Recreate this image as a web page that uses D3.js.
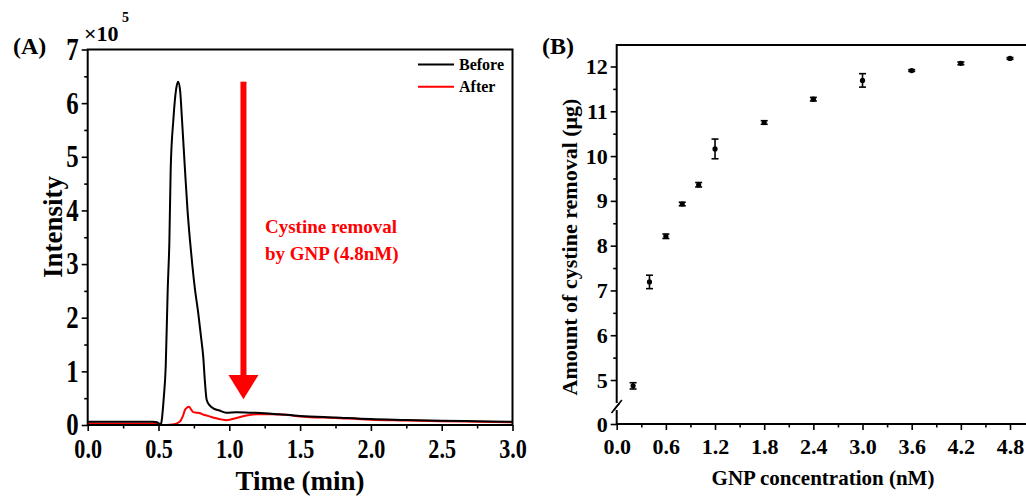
<!DOCTYPE html>
<html>
<head>
<meta charset="utf-8">
<script src="https://cdn.jsdelivr.net/npm/d3@7"></script>
<style>
  body { margin: 0; background: #fff; }
  svg { display: block; }
  text { font-family: "Liberation Serif", "Times New Roman", serif; font-weight: bold; }
</style>
</head>
<body>
<div id="chart"></div>
<script>
// ---- panel A data: chromatogram (intensity in units of 1e5) ----
var beforeTime = [0, 0.1, 0.2, 0.3, 0.4, 0.46, 0.49, 0.505, 0.515, 0.523, 0.537, 0.551, 0.565, 0.577, 0.586, 0.605, 0.624, 0.638, 0.652, 0.666, 0.687, 0.705, 0.722, 0.74, 0.758, 0.78, 0.80, 0.816, 0.828, 0.84, 0.86, 0.887, 0.93, 0.98, 1.05, 1.15, 1.25, 1.35, 1.5, 1.75, 2.0, 2.25, 2.5, 2.75, 3.0];
var beforeValue = [0.06, 0.06, 0.06, 0.06, 0.06, 0.06, 0.05, 0.02, 0.0, 0.09, 0.5, 1.09, 2.52, 3.45, 4.76, 5.69, 6.25, 6.40, 6.25, 5.69, 4.76, 4.0, 3.45, 2.95, 2.52, 2.1, 1.65, 1.27, 0.8, 0.47, 0.37, 0.31, 0.27, 0.23, 0.24, 0.23, 0.22, 0.2, 0.17, 0.14, 0.11, 0.095, 0.08, 0.07, 0.06];
var afterTime = [0, 0.1, 0.2, 0.3, 0.4, 0.5, 0.52, 0.6, 0.65, 0.67, 0.687, 0.7, 0.715, 0.73, 0.746, 0.77, 0.793, 0.82, 0.85, 0.9, 0.95, 0.98, 1.02, 1.076, 1.13, 1.19, 1.3, 1.4, 1.5, 1.75, 2.0, 2.25, 2.5, 2.75, 3.0];
var afterValue = [0.03, 0.03, 0.03, 0.03, 0.03, 0.03, 0.0, 0.01, 0.06, 0.15, 0.28, 0.32, 0.34, 0.29, 0.24, 0.23, 0.22, 0.19, 0.17, 0.13, 0.1, 0.09, 0.11, 0.15, 0.18, 0.2, 0.2, 0.19, 0.16, 0.13, 0.1, 0.085, 0.07, 0.06, 0.05];
var seriesNames = ['Before', 'After'];
var seriesColors = ['#000000', '#ff0000'];
var xTicksA = [0, 0.5, 1.0, 1.5, 2.0, 2.5, 3.0];
var yTicksA = [0, 1, 2, 3, 4, 5, 6, 7];
var arrowAt = {t: 1.1, from: 6.4, to: 0.5};

// ---- panel B data: cystine removal vs GNP concentration ----
var gnpConc = [0.2, 0.4, 0.6, 0.8, 1.0, 1.2, 1.8, 2.4, 3.0, 3.6, 4.2, 4.8];
var removal = [4.87, 7.19, 8.21, 8.93, 9.36, 10.16, 10.75, 11.27, 11.69, 11.91, 12.07, 12.18];
var removalErr = [0.07, 0.15, 0.05, 0.04, 0.05, 0.22, 0.04, 0.04, 0.15, 0.02, 0.03, 0.02];
var xTicksB = [0, 0.6, 1.2, 1.8, 2.4, 3.0, 3.6, 4.2, 4.8];
var yTicksB = [0, 5, 6, 7, 8, 9, 10, 11, 12];

var W = 1026, H = 498;
var svg = d3.select('#chart').append('svg').attr('width', W).attr('height', H);

// the original's lettering is a little narrow, so squeeze tick text horizontally
function styleAxis(g, size, sx) {
  sx = sx || 1;
  g.selectAll('.tick line').attr('stroke', '#000').attr('stroke-width', 1.6);
  g.selectAll('.tick text').attr('fill', '#000').style('font-size', size + 'px')
    .attr('transform', `scale(${sx},1)`);
  g.select('.domain').remove();
}

// ================= Panel A =================
var xA = d3.scaleLinear().domain([0, 3]).range([87.7, 512.5]);
var yA = d3.scaleLinear().domain([0, 7]).range([425, 49.5]);

var gA = svg.append('g');

// minor ticks
gA.append('g').attr('transform', 'translate(0,425)')
  .call(d3.axisBottom(xA).tickValues(d3.range(0.25, 3, 0.5)).tickSize(3.5).tickFormat(''))
  .call(styleAxis, 10);
gA.append('g').attr('transform', 'translate(87.7,0)')
  .call(d3.axisLeft(yA).tickValues(d3.range(0.5, 7, 1)).tickSize(3.5).tickFormat(''))
  .call(styleAxis, 10);
// major ticks
gA.append('g').attr('transform', 'translate(0,425)')
  .call(d3.axisBottom(xA).tickValues(xTicksA).tickSize(6).tickPadding(8).tickFormat(d3.format('.1f')))
  .call(styleAxis, 27, 0.82);
gA.append('g').attr('transform', 'translate(87.7,0)')
  .call(d3.axisLeft(yA).tickValues(yTicksA).tickSize(6).tickPadding(9 / 0.8 - 6).tickFormat(d3.format('d')))
  .call(styleAxis, 31, 0.8);

// curves: After drawn first so Before sits on top
var lineA = d3.line().x(d => xA(d[0])).y(d => yA(d[1])).curve(d3.curveMonotoneX);
var afterPts = afterTime.map((t, i) => [t, afterValue[i]]);
var beforePts = beforeTime.map((t, i) => [t, beforeValue[i]]);
gA.append('path').datum(afterPts).attr('d', lineA)
  .attr('fill', 'none').attr('stroke', seriesColors[1]).attr('stroke-width', 2);
gA.append('path').datum(beforePts).attr('d', lineA)
  .attr('fill', 'none').attr('stroke', seriesColors[0]).attr('stroke-width', 2);

// frame
gA.append('rect').attr('x', 87.7).attr('y', 49.5)
  .attr('width', 512.5 - 87.7).attr('height', 425 - 49.5)
  .attr('fill', 'none').attr('stroke', '#000').attr('stroke-width', 2);

// red arrow
var ax = xA(arrowAt.t), headTop = 375;
gA.append('rect').attr('x', ax - 3).attr('y', yA(arrowAt.from))
  .attr('width', 6).attr('height', headTop - yA(arrowAt.from) + 1).attr('fill', '#ff0000');
gA.append('path')
  .attr('d', `M${ax - 15},${headTop} L${ax + 15},${headTop} L${ax},${yA(arrowAt.to) + 1} Z`)
  .attr('fill', '#ff0000');

// annotation
gA.append('text').attr('x', 265).attr('y', 233).attr('fill', '#ff0000')
  .style('font-size', '19px').text('Cystine removal');
gA.append('text').attr('x', 265).attr('y', 260).attr('fill', '#ff0000')
  .style('font-size', '19px').text('by GNP (4.8nM)');

// legend
seriesNames.forEach(function(name, i) {
  var ly = 64.5 + i * 22.3;
  gA.append('line').attr('x1', 418).attr('x2', 454).attr('y1', ly).attr('y2', ly)
    .attr('stroke', seriesColors[i]).attr('stroke-width', 2);
  gA.append('text').attr('x', 459).attr('y', ly + 5.5).attr('fill', '#000')
    .style('font-size', '16px').text(name);
});

// labels
gA.append('text').attr('x', 13).attr('y', 54).style('font-size', '24px').text('(A)');
gA.append('text').attr('x', 84).attr('y', 41).style('font-size', '22px').text('\u00d710');
gA.append('text').attr('x', 122).attr('y', 22).style('font-size', '14px').text('5');
gA.append('text').attr('transform', 'translate(62,227) rotate(-90)')
  .attr('text-anchor', 'middle').style('font-size', '27px').text('Intensity');
gA.append('text').attr('x', 300).attr('y', 490).attr('text-anchor', 'middle')
  .style('font-size', '27px').text('Time (min)');

// ================= Panel B =================
var x0B = 616.7, unitB = 81.94;
var xB = d3.scaleLinear().domain([0, 5.1]).range([x0B, x0B + 5.1 * unitB]);
var yB = d3.scaleLinear().domain([0, 4.4, 12.48]).range([424, 406.9, 45]);

var gB = svg.append('g');

gB.append('g').attr('transform', 'translate(0,424)')
  .call(d3.axisBottom(xB).tickValues(d3.range(0.3, 5.1, 0.6)).tickSize(3.5).tickFormat(''))
  .call(styleAxis, 10);
gB.append('g').attr('transform', `translate(${x0B},0)`)
  .call(d3.axisLeft(yB).tickValues(d3.range(5.5, 12.4, 1)).tickSize(3.5).tickFormat(''))
  .call(styleAxis, 10);
gB.append('g').attr('transform', 'translate(0,424)')
  .call(d3.axisBottom(xB).tickValues(xTicksB).tickSize(6).tickPadding(8).tickFormat(d3.format('.1f')))
  .call(styleAxis, 22);
gB.append('g').attr('transform', `translate(${x0B},0)`)
  .call(d3.axisLeft(yB).tickValues(yTicksB).tickSize(6).tickPadding(3).tickFormat(d3.format('d')))
  .call(styleAxis, 22);

// frame lines: bottom, top, left with break
gB.append('line').attr('x1', x0B).attr('x2', W + 10).attr('y1', 424).attr('y2', 424)
  .attr('stroke', '#000').attr('stroke-width', 2);
gB.append('line').attr('x1', x0B).attr('x2', W + 10).attr('y1', 45).attr('y2', 45)
  .attr('stroke', '#000').attr('stroke-width', 2);
gB.append('line').attr('x1', x0B).attr('x2', x0B).attr('y1', 425).attr('y2', 410)
  .attr('stroke', '#000').attr('stroke-width', 2);
gB.append('line').attr('x1', x0B).attr('x2', x0B).attr('y1', 403).attr('y2', 44)
  .attr('stroke', '#000').attr('stroke-width', 2);
gB.append('line').attr('x1', 611.5).attr('y1', 413).attr('x2', 619.5).attr('y2', 403)
  .attr('stroke', '#000').attr('stroke-width', 1.6);
gB.append('line').attr('x1', 613.9).attr('y1', 410).attr('x2', 621.9).attr('y2', 400)
  .attr('stroke', '#000').attr('stroke-width', 1.6);

// error bars + points
var pts = gB.selectAll('g.pt').data(gnpConc.map((c, i) => ({c: c, v: removal[i], e: removalErr[i]})))
  .join('g').attr('class', 'pt');
pts.append('line')
  .attr('x1', d => xB(d.c)).attr('x2', d => xB(d.c))
  .attr('y1', d => yB(d.v - d.e)).attr('y2', d => yB(d.v + d.e))
  .attr('stroke', '#000').attr('stroke-width', 1.6);
[-1, 1].forEach(function(s) {
  pts.append('line')
    .attr('x1', d => xB(d.c) - 3.5).attr('x2', d => xB(d.c) + 3.5)
    .attr('y1', d => yB(d.v + s * d.e)).attr('y2', d => yB(d.v + s * d.e))
    .attr('stroke', '#000').attr('stroke-width', 1.6);
});
pts.append('circle').attr('cx', d => xB(d.c)).attr('cy', d => yB(d.v)).attr('r', 2.6).attr('fill', '#000');

// labels
gB.append('text').attr('x', 542).attr('y', 54).style('font-size', '24px').text('(B)');
gB.append('text').attr('transform', 'translate(577,247) rotate(-90)')
  .attr('text-anchor', 'middle').style('font-size', '22px').text('Amount of cystine removal (\u03bcg)');
gB.append('text').attr('x', 823).attr('y', 485).attr('text-anchor', 'middle')
  .style('font-size', '21px').text('GNP concentration (nM)');
</script>
</body>
</html>
